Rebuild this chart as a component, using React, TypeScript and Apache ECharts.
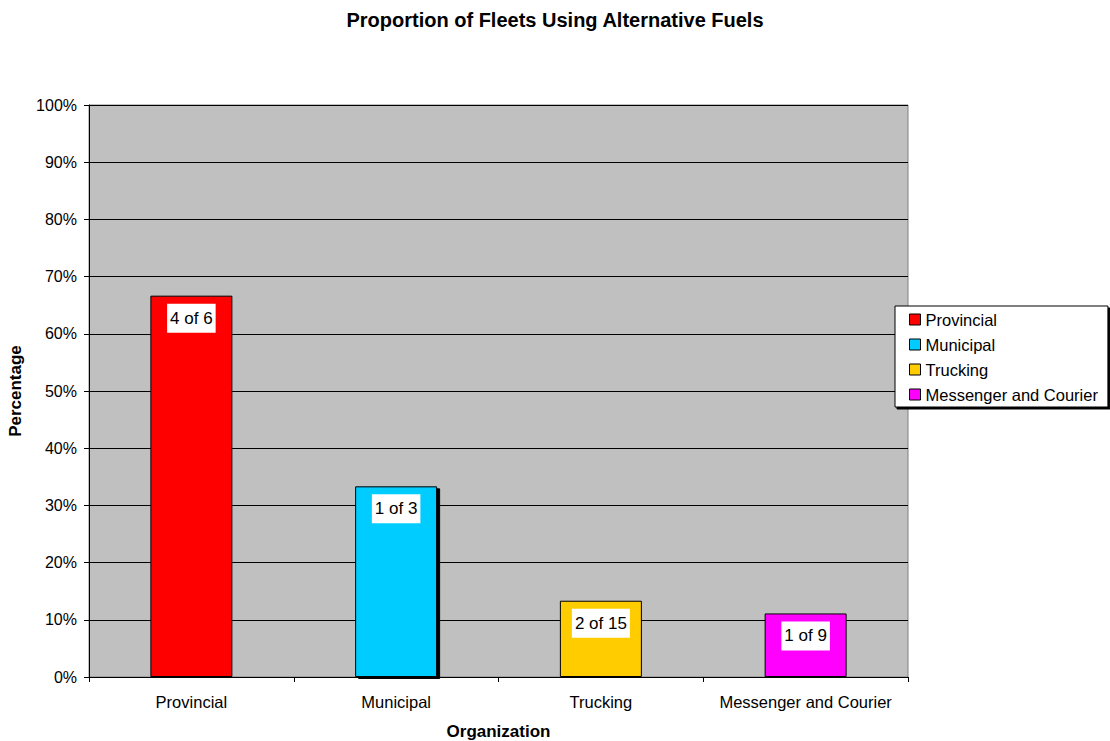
import React, { useEffect, useRef } from "react";
import * as echarts from "echarts";

const categories = ["Provincial", "Municipal", "Trucking", "Messenger and Courier"];
const values = [4 / 6, 1 / 3, 2 / 15, 1 / 9];
const labels = ["4 of 6", "1 of 3", "2 of 15", "1 of 9"];
const colors = ["#ff0000", "#00ccff", "#ffcc00", "#ff00ff"];

const FONT = "'Liberation Sans', Arial, sans-serif";

export default function App() {
  const ref = useRef<HTMLDivElement>(null);
  useEffect(() => {
    if (!ref.current) return;
    const chart = echarts.init(ref.current, undefined, { renderer: "svg" });
    const series = categories.map((name, i) => ({
      name,
      type: "bar",
      stack: "all",
      barWidth: 82,
      data: categories.map((_, j) => (j === i ? values[i] : null)),
      itemStyle: {
        color: colors[i],
        borderColor: "#000",
        borderWidth: 1,
        ...(i === 1 ? { shadowColor: "#000", shadowOffsetX: 3, shadowOffsetY: 2, shadowBlur: 0.1 } : {}),
      },
      label: {
        show: true,
        position: "insideTop",
        distance: 8,
        formatter: () => labels[i],
        color: "#000",
        fontFamily: FONT,
        fontSize: 17,
        lineHeight: 17,
        backgroundColor: "#fff",
        padding: [6, 3, 6, 3],
      },
    }));
    chart.setOption({
      animation: false,
      textStyle: { fontFamily: FONT },
      title: {
        text: "Proportion of Fleets Using Alternative Fuels",
        left: "center",
        top: 10,
        padding: 0,
        textStyle: { fontFamily: FONT, fontSize: 20, fontWeight: "bold", color: "#000" },
      },
      legend: {
        orient: "vertical",
        left: 895,
        top: 306,
        padding: [5, 10, 4, 14],
        itemGap: 8,
        itemWidth: 11,
        itemHeight: 11,
        icon: "rect",
        backgroundColor: "#fff",
        borderColor: "#000",
        borderWidth: 1,
        shadowColor: "#000",
        shadowOffsetX: 2,
        shadowOffsetY: 2,
        shadowBlur: 0.1,
        textStyle: { fontFamily: FONT, fontSize: 16.5, color: "#000", lineHeight: 17 },
        itemStyle: { borderColor: "#000", borderWidth: 1 },
        data: categories,
      },
      grid: {
        left: 89,
        right: 202,
        top: 105,
        bottom: 64,
        outerBoundsMode: "none",
        containLabel: false,
        show: true,
        backgroundColor: "#c0c0c0",
        borderColor: "#808080",
        borderWidth: 1,
      },
      xAxis: {
        type: "category",
        data: categories,
        name: "Organization",
        nameLocation: "middle",
        nameGap: 46,
        nameTextStyle: { fontFamily: FONT, fontSize: 17, fontWeight: "bold", color: "#000" },
        axisLine: { lineStyle: { color: "#000" } },
        axisTick: { show: true, alignWithLabel: false, length: 5, lineStyle: { color: "#000" } },
        axisLabel: { interval: 0, fontFamily: FONT, fontSize: 16.5, color: "#000", margin: 16 },
      },
      yAxis: {
        type: "value",
        min: 0,
        max: 1,
        interval: 0.1,
        name: "Percentage",
        nameLocation: "middle",
        nameGap: 65,
        nameTextStyle: { fontFamily: FONT, fontSize: 17, fontWeight: "bold", color: "#000" },
        axisLine: { show: true, lineStyle: { color: "#000" } },
        axisTick: { show: true, length: 5, lineStyle: { color: "#000" } },
        axisLabel: {
          fontFamily: FONT,
          fontSize: 16,
          color: "#000",
          margin: 12,
          formatter: (v: number) => Math.round(v * 100) + "%",
        },
        splitLine: { show: true, lineStyle: { color: "#000", width: 1 } },
      },
      series,
    });
    return () => chart.dispose();
  }, []);
  return <div ref={ref} style={{ width: 1110, height: 741, position: "absolute", left: 0, top: 0 }} />;
}
